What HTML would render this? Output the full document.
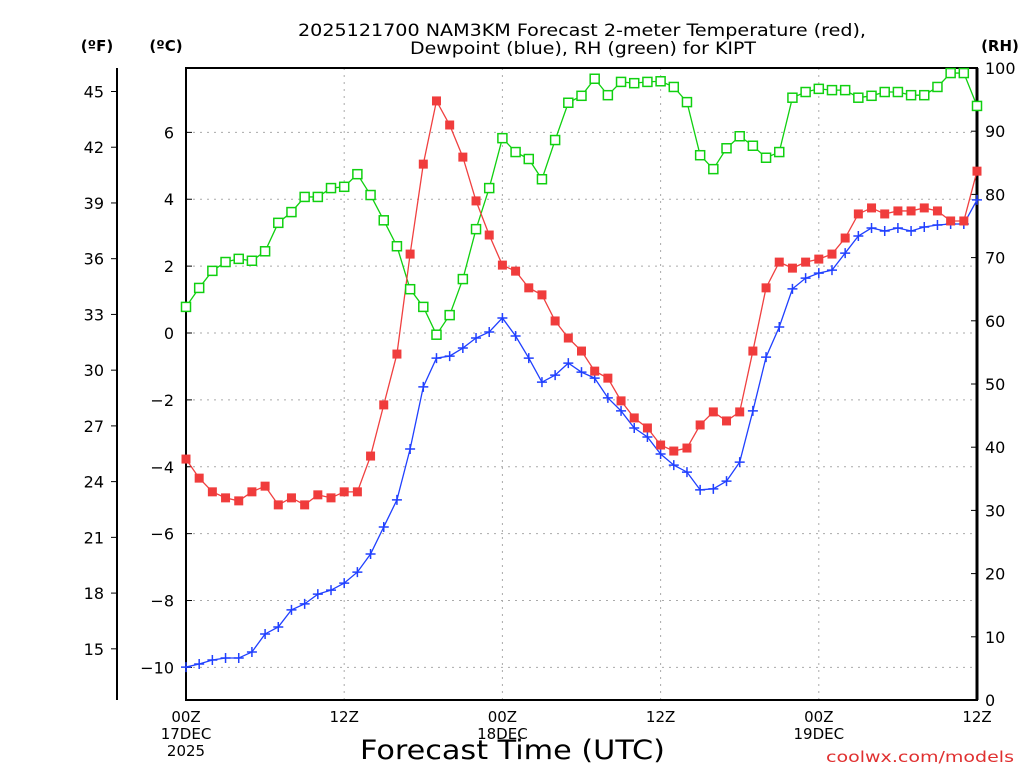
<!DOCTYPE html>
<html><head><meta charset="utf-8"><style>
body{margin:0;background:#fff;}
svg{display:block;font-family:"DejaVu Sans","Liberation Sans",sans-serif;}
</style></head><body>
<svg id="chart" width="1024" height="768" viewBox="0 0 1024 768" xmlns="http://www.w3.org/2000/svg">
<g id="grid"></g>
<g id="axes"></g>
<g id="series"></g>
<text x="298" y="36" font-size="17" textLength="568" lengthAdjust="spacingAndGlyphs">2025121700 NAM3KM Forecast 2-meter Temperature (red),</text>
<text x="410" y="54" font-size="17" textLength="346" lengthAdjust="spacingAndGlyphs">Dewpoint (blue), RH (green) for KIPT</text>
<text x="97" y="51" text-anchor="middle" font-size="15" font-weight="bold">(ºF)</text>
<text x="166" y="51" text-anchor="middle" font-size="15" font-weight="bold">(ºC)</text>
<text x="1000" y="51" text-anchor="middle" font-size="15" font-weight="bold">(RH)</text>
<text x="360" y="759" font-size="27" textLength="305" lengthAdjust="spacingAndGlyphs">Forecast Time (UTC)</text>
<text x="826" y="762" font-size="15" fill="#e03030" textLength="188" lengthAdjust="spacingAndGlyphs">coolwx.com/models</text>
</svg>
<script>
const hours = Array.from({length:61},(_,i)=>i);
const tempC = [-3.77,-4.34,-4.75,-4.93,-5.02,-4.75,-4.58,-5.14,-4.93,-5.14,-4.84,-4.93,-4.75,-4.75,-3.68,-2.15,-0.63,2.36,5.05,6.94,6.22,5.26,3.95,2.93,2.03,1.85,1.35,1.14,0.36,-0.15,-0.54,-1.14,-1.35,-2.03,-2.54,-2.84,-3.35,-3.53,-3.44,-2.75,-2.36,-2.63,-2.36,-0.54,1.35,2.12,1.94,2.12,2.21,2.36,2.84,3.56,3.74,3.56,3.65,3.65,3.74,3.65,3.35,3.35,4.84];
const dewC = [-9.99,-9.90,-9.78,-9.72,-9.72,-9.54,-9.00,-8.79,-8.28,-8.10,-7.81,-7.69,-7.48,-7.15,-6.61,-5.80,-4.99,-3.47,-1.61,-0.75,-0.69,-0.45,-0.15,0.03,0.45,-0.09,-0.75,-1.47,-1.26,-0.90,-1.17,-1.35,-1.94,-2.33,-2.84,-3.11,-3.62,-3.95,-4.16,-4.69,-4.66,-4.43,-3.86,-2.33,-0.72,0.18,1.32,1.64,1.79,1.88,2.39,2.90,3.14,3.05,3.14,3.05,3.17,3.23,3.26,3.26,3.98];
const rh = [62.2,65.2,67.9,69.3,69.8,69.5,71.0,75.5,77.2,79.6,79.6,81.0,81.2,83.2,79.9,75.9,71.8,65.0,62.2,57.8,60.9,66.6,74.5,81.0,88.9,86.7,85.6,82.4,88.6,94.5,95.6,98.3,95.7,97.8,97.6,97.8,97.9,97.0,94.6,86.2,84.0,87.3,89.2,87.7,85.8,86.7,95.3,96.2,96.7,96.5,96.5,95.3,95.6,96.2,96.2,95.7,95.7,97.0,99.2,99.2,94.0];
const cTicks = [-10,-8,-6,-4,-2,0,2,4,6];
const fTicks = [15,18,21,24,27,30,33,36,39,42,45];
const rhTicks = [0,10,20,30,40,50,60,70,80,90,100];
const xTickHours = [0,12,24,36,48,60];
const xTickLabels = [["00Z","17DEC","2025"],["12Z"],["00Z","18DEC"],["12Z"],["00Z","19DEC"],["12Z"]];

const L=186,R=977,T=68,B=700;
const xs=h=>L+(R-L)*h/60;
const yc=c=>333-c*33.44;
const yf=f=>yc((f-32)*5/9);
const yr=r=>B-(B-T)*r/100;
const NS="http://www.w3.org/2000/svg";
function mk(tag,attrs,parent,txt){const e=document.createElementNS(NS,tag);for(const k in attrs)e.setAttribute(k,attrs[k]);if(txt!==undefined)e.textContent=txt;parent.appendChild(e);return e;}
const grid=document.getElementById('grid'),axes=document.getElementById('axes'),series=document.getElementById('series');
cTicks.forEach(c=>{
  const g=mk('line',{x1:L,x2:R,y1:yc(c),y2:yc(c),stroke:'#aaa','stroke-dasharray':'2,5'},grid);
  
  
  const t=mk('line',{x1:L,x2:L+6,y1:yc(c),y2:yc(c),stroke:'#000'},axes);
  
  
  const lb=mk('text',{x:174,y:yc(c)+6,'text-anchor':'end','font-size':'16'},axes,c<0?'\u2212'+(-c):String(c));
  
  
});
xTickHours.forEach((h,i)=>{
  if(h>0&&h<60){const g=mk('line',{x1:xs(h),x2:xs(h),y1:T,y2:B,stroke:'#aaa','stroke-dasharray':'2,5'},grid);
  
  }
  xTickLabels[i].forEach((s,j)=>{
    const lb=mk('text',{x:xs(h),y:722+j*17,'text-anchor':'middle','font-size':'15'},axes,s);
    
    
  });
});
fTicks.forEach(f=>{
  const t=mk('line',{x1:111,x2:117,y1:yf(f),y2:yf(f),stroke:'#000'},axes);
  
  
  const lb=mk('text',{x:104,y:yf(f)+6,'text-anchor':'end','font-size':'16'},axes,String(f));
  
  
});
rhTicks.forEach(r=>{
  const t=mk('line',{x1:R-6,x2:R,y1:yr(r),y2:yr(r),stroke:'#000'},axes);
  
  
  const lb=mk('text',{x:985,y:yr(r)+6,'font-size':'16'},axes,String(r));
  
  
});
const fa=mk('line',{x1:117,x2:117,y1:T,y2:B,stroke:'#000','stroke-width':2},axes);


const box=mk('rect',{x:L,y:T,width:R-L,height:B-T,fill:'none',stroke:'#000','stroke-width':2},axes);


const ra=mk('line',{x1:R,x2:R,y1:T,y2:B,stroke:'#000','stroke-width':3},axes);



function line(vals,yfn,color,name){
  const p=mk('polyline',{points:vals.map((v,i)=>xs(hours[i])+','+yfn(v)).join(' '),fill:'none',stroke:color,'stroke-width':1.3},series);
  
  
}
line(rh,yr,'#10d010','rh');
line(dewC,yc,'#2040ff','dewpoint');
line(tempC,yc,'#f04040','temperature');
rh.forEach((v,i)=>{const m=mk('rect',{x:xs(hours[i])-4.5,y:yr(v)-4.5,width:9,height:9,fill:'#fff',stroke:'#10d010','stroke-width':1.5},series);
  
  });
dewC.forEach((v,i)=>{const x=xs(hours[i]),y=yc(v);const m=mk('path',{d:`M${x-5},${y}H${x+5}M${x},${y-5}V${y+5}`,stroke:'#2040ff','stroke-width':1.5},series);
  
  });
tempC.forEach((v,i)=>{const m=mk('rect',{x:xs(hours[i])-4.5,y:yc(v)-4.5,width:9,height:9,fill:'#f03c3c'},series);
  
  });
</script>
</body></html>
